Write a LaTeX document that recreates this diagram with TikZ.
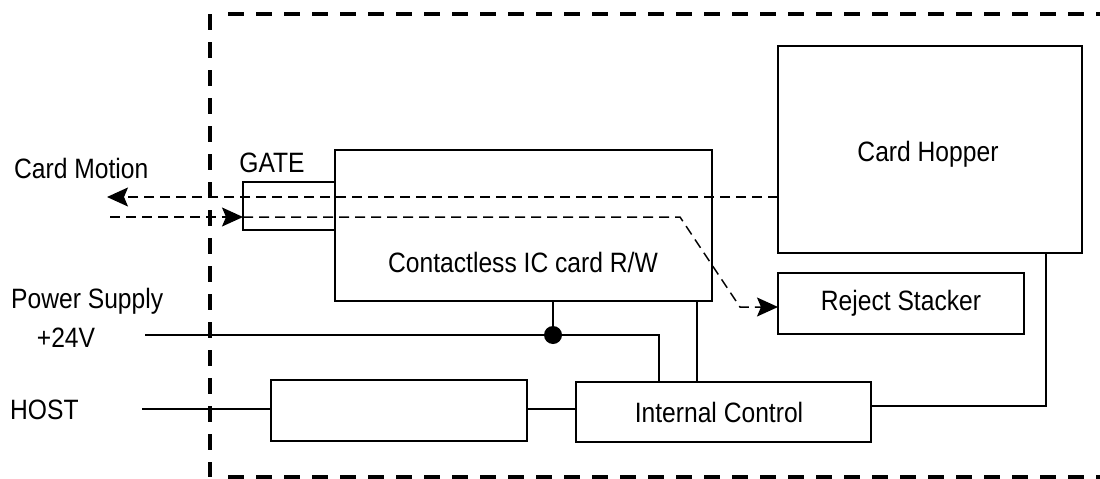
\documentclass[tikz,border=0pt]{standalone}
\usepackage{fontspec}
\setmainfont{Liberation Sans}[FakeStretch=0.88]
\usetikzlibrary{arrows.meta,calc}
\begin{document}
\begin{tikzpicture}[x=1pt,y=-1pt,
  box/.style={draw,line width=1.6pt,rectangle,outer sep=0pt,inner sep=0pt},
  txt/.style={inner sep=0pt,font=\fontsize{28}{33}\selectfont},
  wire/.style={line width=1.6pt},
  flow/.style={line width=1.5pt,dash pattern=on 10pt off 6pt},
  arrowend/.style={-{Stealth[length=21pt,width=19pt,inset=4pt]}},
  frame/.style={line width=3.2pt,dash pattern=on 16pt off 12pt}]
\useasboundingbox (0,0) rectangle (1100,479);
% boundary
\coordinate (fA) at (1100,14);
\coordinate (fB) at (210,14);
\coordinate (fC) at (210,477);
\coordinate (fD) at (1100,477);
\draw[frame] (fB) -- (fC);
\draw[frame] ($(fB)+(18,0)$) -- (fA);
\draw[frame] ($(fC)+(18,0)$) -- (fD);
% boxes
\node[box,minimum width=304,minimum height=207] (hop) at (930,149.5) {};
\node[txt] (hopt) at (928,154) {Card Hopper};
\node[box,minimum width=377,minimum height=151] (cl) at (523.5,225.5) {};
\node[txt] (clt) at (523,262) {Contactless IC card R/W};
\node[box,minimum width=92,minimum height=48] (gate) at (289,206) {};
\node[txt] (gatet) at (272,163) {GATE};
\node[box,minimum width=246,minimum height=61] (rej) at (901,303.5) {};
\node[txt] (rejt) at (rej) {Reject Stacker};
\node[box,minimum width=256,minimum height=61] (blank) at (399,410.5) {};
\node[box,minimum width=295,minimum height=60] (ic) at (723.5,412) {};
\node[txt] (ict) at (719,412) {Internal Control};
% outside labels
\node[txt,anchor=west] (cm) at (14,168) {Card Motion};
\node[txt,anchor=west] (ps) at (11,301) {Power Supply};
\node[txt] (v24) at (66,338) {+24V};
\node[txt,anchor=west] (host) at (10,410) {HOST};
% card motion
\coordinate (outL) at (107,197);
\coordinate (inL) at (110,217);
\coordinate (bend1) at (680,217);
\coordinate (bend2) at (740,307);
\draw[flow,arrowend] (hop.west |- outL) -- (outL);
\draw[flow,arrowend] (inL) -- (gate.west |- inL);
\draw[flow,arrowend] (gate.west |- inL) -- (bend1) -- (bend2) -- (rej.west |- bend2);
% power
\coordinate (pwr) at (145,335);
\coordinate (dot) at (553,335);
\coordinate (icp) at (659,382);
\draw[wire] (pwr) -| (icp);
\fill (dot) circle (9);
\draw[wire] (dot) -- (dot |- cl.south);
\draw[wire] (697,301) -- (697,382);
% host
\coordinate (hst) at (142,409);
\draw[wire] (hst) -- (blank.west |- hst);
\draw[wire] (blank.east |- hst) -- (ic.west |- hst);
% ic to hopper
\coordinate (hc) at (1046,406);
\draw[wire] (ic.east |- hc) -- (hc) -- (hc |- hop.south);
\end{tikzpicture}
\end{document}
